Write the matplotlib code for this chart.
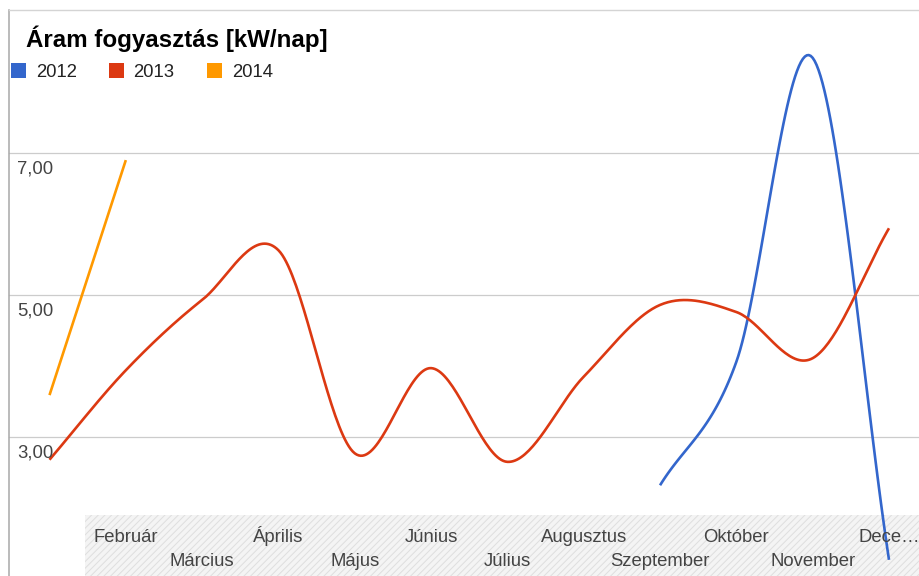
import numpy as np
import matplotlib
matplotlib.use("Agg")
import matplotlib.pyplot as plt
from matplotlib.patches import Rectangle
from matplotlib.lines import Line2D

# ---------------- data ----------------
months = ['Január', 'Február', 'Március', 'Április', 'Május', 'Június',
          'Július', 'Augusztus', 'Szeptember', 'Október', 'November', 'December']
month_labels = ['', 'Február', 'Március', 'Április', 'Május', 'Június',
                'Július', 'Augusztus', 'Szeptember', 'Október', 'November', 'Dece…']
series_names = ['2012', '2013', '2014']
series_colors = ['#3366cc', '#dc3912', '#ff9900']
v2012 = [None, None, None, None, None, None, None, None, 2.32, 4.06, 8.34, 1.27]
v2013 = [2.68, 3.94, 4.93, 5.63, 2.77, 3.97, 2.65, 3.85, 4.86, 4.76, 4.11, 5.94]
v2014 = [3.59, 6.90, None, None, None, None, None, None, None, None, None, None]
yticks = [3, 5, 7]
ytick_labels = ['3,00', '5,00', '7,00']
title = 'Áram fogyasztás [kW/nap]'

FONT = 'Liberation Sans'
W, H = 919, 576

plt.rcParams['hatch.linewidth'] = 0.7
fig = plt.figure(figsize=(W / 100, H / 100), dpi=100)
fig.patch.set_facecolor('white')
ax = fig.add_axes([0, 0, 1, 1])
ax.set_axis_off()

# pixel mapping: Jan at x=49.5, Dec at x=889 ; y=5 at 295px, 71px per unit
x0px, dxpx = 49.5, (889 - 49.5) / 11
y5px, dypx = 295, 71
ax.set_xlim(-x0px / dxpx, (W - x0px) / dxpx)
ax.set_ylim(5 - (H - y5px) / dypx, 5 + y5px / dypx)


def px2fig(x, y):
    return x / W, 1 - y / H


# hatched label band
bx, by = px2fig(85, H)
band = Rectangle((bx, 0), 1 - bx, 61 / H, transform=fig.transFigure,
                 facecolor='#f4f4f4', edgecolor='#dedede', hatch='/////',
                 linewidth=0, zorder=0)
fig.add_artist(band)

# gridlines
for yv in yticks:
    ax.axhline(yv, xmin=9 / W, xmax=1, color='#cccccc', lw=0.9, zorder=1)

# frame lines
fig.add_artist(Line2D([9 / W, 9 / W], [0, 1 - 10 / H], transform=fig.transFigure,
                      color='#a8a8a8', lw=1.1, zorder=5))
fig.add_artist(Line2D([9 / W, 1], [1 - 10 / H, 1 - 10 / H], transform=fig.transFigure,
                      color='#d4d4d4', lw=1.0, zorder=5))


def smooth(xs, ys, n=40):
    P = np.column_stack([xs, ys]).astype(float)
    if len(P) < 3:
        return P[:, 0], P[:, 1]
    m = np.zeros_like(P)
    m[1:-1] = (P[2:] - P[:-2]) / 2
    m[0] = P[1] - P[0]
    m[-1] = P[-1] - P[-2]
    outx, outy = [], []
    t = np.linspace(0, 1, n)
    h00 = 2 * t**3 - 3 * t**2 + 1
    h10 = t**3 - 2 * t**2 + t
    h01 = -2 * t**3 + 3 * t**2
    h11 = t**3 - t**2
    for i in range(len(P) - 1):
        seg = (h00[:, None] * P[i] + h10[:, None] * m[i]
               + h01[:, None] * P[i + 1] + h11[:, None] * m[i + 1])
        outx.extend(seg[:, 0])
        outy.extend(seg[:, 1])
    return np.array(outx), np.array(outy)


for vals, col in zip([v2012, v2013, v2014], series_colors):
    xs = [i for i, v in enumerate(vals) if v is not None]
    ys = [v for v in vals if v is not None]
    sx, sy = smooth(xs, ys)
    ax.plot(sx, sy, color=col, lw=1.9, solid_capstyle='butt', zorder=3)

# y tick labels
for yv, lab in zip(yticks, ytick_labels):
    ypx = y5px - (yv - 5) * dypx + 20.5
    fx, fy = px2fig(17, ypx)
    fig.text(fx, fy, lab, fontsize=13.3, family=FONT, color='#444444',
             ha='left', va='baseline')

# x labels (two staggered rows)
for i, lab in enumerate(month_labels):
    if not lab:
        continue
    xpx = x0px + i * dxpx
    ypx = 542 if i % 2 == 1 else 566
    fx, fy = px2fig(xpx, ypx)
    fig.text(fx, fy, lab, fontsize=13.3, family=FONT, color='#444444',
             ha='center', va='baseline', zorder=4)

# title
fx, fy = px2fig(26, 47)
fig.text(fx, fy, title, fontsize=17.4, family=FONT, weight='bold',
         color='#000000', ha='left', va='baseline')

# legend
sq_x = [11, 109, 207]
tx_x = [36, 133, 232]
for name, col, sx, tx in zip(series_names, series_colors, sq_x, tx_x):
    lx, ly = px2fig(sx, 78)
    sq = Rectangle((lx, ly), (26 - sx if sx < 20 else 15) / W, 15 / H,
                   transform=fig.transFigure,
                   facecolor=col, edgecolor='none', zorder=4)
    fig.add_artist(sq)
    fx, fy = px2fig(tx, 77)
    fig.text(fx, fy, name, fontsize=13.3, family=FONT, color='#222222',
             ha='left', va='baseline')

fig.savefig('out.png', dpi=100, facecolor='white')
